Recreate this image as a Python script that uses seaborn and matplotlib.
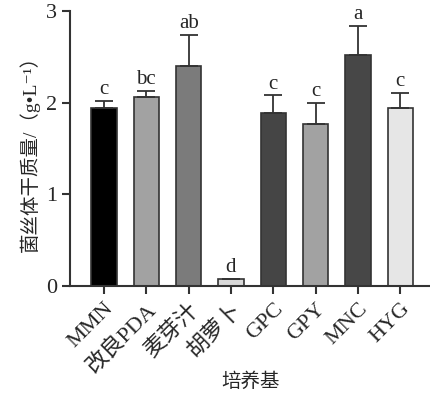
import numpy as np
import pandas as pd
import seaborn as sns
import matplotlib.pyplot as plt

media = ['MMN', '改良PDA', '麦芽汁', '胡萝卜', 'GPC', 'GPY', 'MNC', 'HYG']
dry_weight = [1.94, 2.06, 2.40, 0.08, 1.89, 1.77, 2.52, 1.94]
err = [0.08, 0.07, 0.34, 0.0, 0.19, 0.23, 0.32, 0.17]
letters = ['c', 'bc', 'ab', 'd', 'c', 'c', 'a', 'c']
colors = ['#000000', '#a2a2a2', '#7b7b7b', '#d9d9d9', '#454545', '#a2a2a2', '#474747', '#e6e6e6']

sns.set_style('ticks')
plt.rcParams['font.family'] = ['Liberation Serif', 'Noto Sans CJK SC', 'DejaVu Sans']

df = pd.DataFrame({'medium': media, 'weight': dry_weight})

fig = plt.figure(figsize=(4.3, 3.94), dpi=100)
ax = fig.add_axes([0.163, 0.274, 0.837, 0.698])

sns.barplot(data=df, x='medium', y='weight', hue='medium', palette=colors,
            legend=False, width=0.6, edgecolor='#333333', linewidth=1.2, ax=ax)

x = np.arange(len(media))
up = np.array(err)
ax.errorbar(x, dry_weight, yerr=[np.zeros_like(up), up], fmt='none',
            ecolor='#333333', elinewidth=1.3, capsize=6.5, capthick=1.3)

for i, (v, e, t) in enumerate(zip(dry_weight, err, letters)):
    ax.text(i, v + e + 0.02, t, ha='center', va='bottom', fontsize=15)

ax.set_ylim(0, 3)
ax.set_xlim(-0.8, 7.7)
ax.set_yticks([0, 1, 2, 3])
ax.tick_params(axis='both', width=1.5, length=6, labelsize=16, color='#333333')
ax.set_xticks(x)
ax.set_xticklabels(media, rotation=45, ha='right', rotation_mode='anchor', fontsize=16)
for s in ['top', 'right']:
    ax.spines[s].set_visible(False)
for s in ['left', 'bottom']:
    ax.spines[s].set_linewidth(1.5)
    ax.spines[s].set_color('#333333')

ax.set_ylabel('菌丝体干质量/（g•L⁻¹）', fontsize=14, labelpad=4)
ax.set_xlabel('培养基', fontsize=14, labelpad=-3)

fig.savefig('out.png', dpi=100)
